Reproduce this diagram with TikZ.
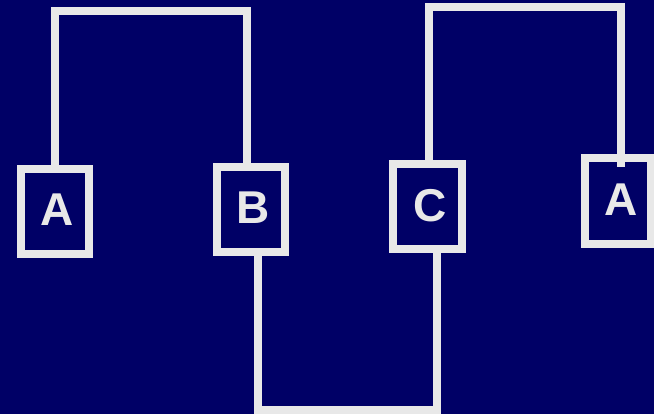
\documentclass[tikz,border=0pt]{standalone}
\usepackage{fontspec}
\setmainfont{Liberation Sans}
\definecolor{bgc}{HTML}{000066}
\definecolor{fgc}{HTML}{E8E8E8}
\newcommand{\boxtext}[2][3.5pt]{\hspace*{5pt}\raisebox{#1}{#2}}
\begin{document}
\begin{tikzpicture}[x=1pt,y=1pt,
  boxnode/.style={draw=fgc,line width=8pt,minimum width=68pt,minimum height=85pt,inner sep=0pt,
    text=fgc,font=\bfseries\fontsize{46}{46}\selectfont},
  wire/.style={draw=fgc,line width=8pt,line join=miter}]
\fill[bgc] (0,0) rectangle (654,-414);
\useasboundingbox (0,0) rectangle (654,-414);
\node[boxnode] (a1) at (54.7,-211.5) {\boxtext{A}};
\node[boxnode,minimum width=68.6pt] (b) at (251,-209.7) {\boxtext{B}};
\node[boxnode,minimum width=69pt] (c) at (427.5,-207) {\boxtext[3pt]{C}};
\node[boxnode,minimum width=66pt,minimum height=86pt] (a2) at (617.5,-201.2) {\hspace*{3pt}\boxtext[3.5pt]{A}};
\coordinate (t1) at (150,-10.8);
\coordinate (t2) at (520,-7.2);
\coordinate (t3) at (340,-410.3);
\draw[wire] (a1.north) |- (t1) -| ([xshift=-4.2pt]b.north);
\draw[wire] ([xshift=1.3pt]c.north) |- (t2) -| ([xshift=3.7pt,yshift=-12.7pt]a2.north);
\draw[wire] ([xshift=6.5pt]b.south) |- (t3) -| ([xshift=9.3pt]c.south);
\end{tikzpicture}
\end{document}
